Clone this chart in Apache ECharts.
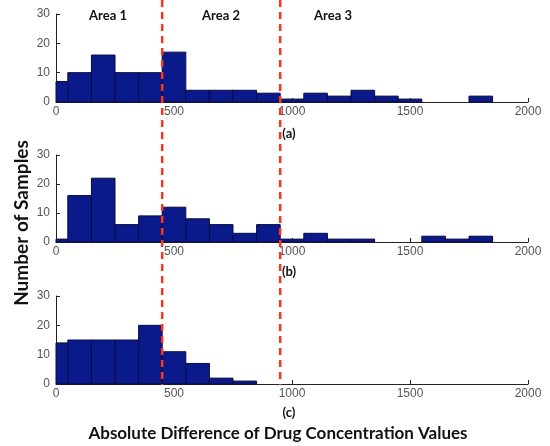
<!DOCTYPE html>
<html><head><meta charset="utf-8">
<script src="https://cdn.jsdelivr.net/npm/echarts@6/dist/echarts.min.js"></script>
<style>html,body{margin:0;padding:0;background:#fff}#c{width:550px;height:446px}</style>
</head><body><div id="c"></div>
<script>
// ---- data ----
const binCenters = [0,100,200,300,400,500,600,700,800,900,1000,1100,1200,1300,1400,1500,1600,1700,1800,1900];
const binWidth = 100;
const countsA = [7,10,16,10,10,17,4,4,4,3,1,3,2,4,2,1,0,0,2,0];
const countsB = [1,16,22,6,9,12,8,6,3,6,1,3,1,1,0,0,2,1,2,0];
const countsC = [14,15,15,15,20,11,7,2,1,0,0,0,0,0,0,0,0,0,0,0];
const panelLabels = ['(a)','(b)','(c)'];
const areaLabels = ['Area 1','Area 2','Area 3'];
const boundaries = [450, 950];
const xMin = 0, xMax = 2000, xInterval = 500;
const yMin = 0, yMax = 30, yInterval = 10;
const xTitle = 'Absolute Difference of Drug Concentration Values';
const yTitle = 'Number of Samples';

// ---- layout ----
const grids = [
  {left:56, right:22, top:14, height:88},
  {left:56, right:22, top:155, height:87},
  {left:56, right:22, top:296, height:88}
];
const labelFont = '"Liberation Sans", Arial, sans-serif';
const boldFont = 'Lato, "Open Sans", sans-serif';

function renderBin(params, api){
  const c = api.value(0), v = api.value(1);
  if (!v) return null;
  const lo = Math.max(c - binWidth/2, xMin), hi = Math.min(c + binWidth/2, xMax);
  const p0 = api.coord([lo, 0]), p1 = api.coord([hi, v]);
  return {type:'rect', shape:{x:p0[0], y:p1[1], width:p1[0]-p0[0], height:p0[1]-p1[1]},
    style:{fill:'#0b1a8a', stroke:'#0a0a40', lineWidth:1}};
}

const allCounts = [countsA, countsB, countsC];
const option = {
  animation:false,
  backgroundColor:'#fff',
  grid: grids,
  xAxis: grids.map((g,i)=>({
    type:'value', gridIndex:i, min:xMin, max:xMax, interval:xInterval,
    splitLine:{show:false},
    axisLine:{show:true, lineStyle:{color:'#222', width:1}},
    axisTick:{show:true, inside:true, length:4, lineStyle:{color:'#222'}},
    axisLabel:{color:'#555', fontSize:12, fontFamily:labelFont, margin:4, formatter:v=>String(v)}
  })),
  yAxis: grids.map((g,i)=>({
    type:'value', gridIndex:i, min:yMin, max:yMax, interval:yInterval,
    splitLine:{show:false},
    axisLine:{show:true, lineStyle:{color:'#222', width:1}},
    axisTick:{show:true, inside:true, length:4, lineStyle:{color:'#222'}},
    axisLabel:{color:'#555', fontSize:12, fontFamily:labelFont, margin:6, formatter:v=>String(v)}
  })),
  series: allCounts.map((counts,i)=>({
    type:'custom', xAxisIndex:i, yAxisIndex:i,
    renderItem: renderBin,
    encode:{x:0, y:1},
    data: binCenters.map((c,k)=>[c, counts[k]])
  }))
};

const chart = echarts.init(document.getElementById('c'), null, {renderer:'canvas'});
chart.setOption(option);

const graphics = [];
boundaries.forEach(b=>{
  const x = chart.convertToPixel({xAxisIndex:0}, b);
  graphics.push({type:'line', z:100, shape:{x1:x, y1:0, x2:x, y2:385},
    style:{stroke:'#ff3418', lineWidth:2.5, lineDash:[7,5]}});
});
const areaX = [108, 221, 333];
areaLabels.forEach((t,i)=>{
  graphics.push({type:'text', z:101, x:areaX[i], y:16,
    style:{text:t, fill:'#111', font:'bold 13px '+boldFont, textAlign:'center', textVerticalAlign:'middle'}});
});
const panelY = [134, 272, 413];
panelLabels.forEach((t,i)=>{
  graphics.push({type:'text', z:101, x:289, y:panelY[i],
    style:{text:t, fill:'#111', font:'bold 13px '+boldFont, textAlign:'center', textVerticalAlign:'middle'}});
});
graphics.push({type:'text', z:101, x:278, y:434,
  style:{text:xTitle, fill:'#111', font:'bold 17px '+boldFont, textAlign:'center', textVerticalAlign:'middle'}});
graphics.push({type:'text', z:101, x:22, y:223, rotation:Math.PI/2,
  style:{text:yTitle, fill:'#111', font:'bold 19px '+boldFont, textAlign:'center', textVerticalAlign:'middle'}});
chart.setOption({graphic: graphics});
</script>
</body></html>
